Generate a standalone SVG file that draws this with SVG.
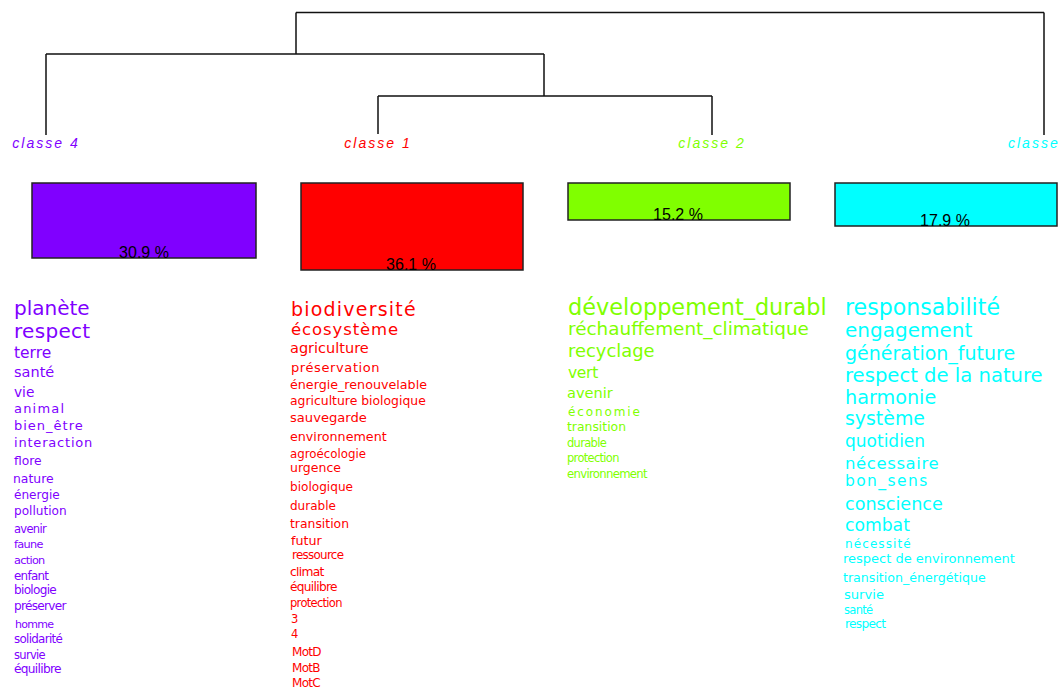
<svg xmlns="http://www.w3.org/2000/svg" width="1059" height="688" viewBox="0 0 1059 688">
<style>
text{font-family:"DejaVu Sans","Liberation Sans",sans-serif}
.lbl{font-family:"Liberation Sans",Arial,sans-serif;font-style:italic;font-size:14px;letter-spacing:2px;text-anchor:middle}
.pct{font-family:"Liberation Sans",Arial,sans-serif;font-size:16px;fill:#000;text-anchor:middle}
.box{stroke:#222;stroke-width:1.5}
.sm{letter-spacing:-0.7px}
.c4{fill:#8000FF}.c1{fill:#FF0000}.c2{fill:#80FF00}.c3{fill:#00FFFF}
.edge{fill:none;stroke:#111;stroke-width:1.5}
</style>
<rect width="1059" height="688" fill="#fff"/>
<g id="connectors">
<path class="edge" d="M296 12.5H1044M296 12.5V54M46 54H544M46 54V135M544 54V96M378 96H712M378 96V134M712 96V135M1044 12.5V135"/>
</g>
<g id="classe4">
<text class="lbl c4" x="46" y="147.5">classe 4</text>
<rect class="box c4" x="32" y="183" width="224" height="75"/>
<text class="pct" x="144" y="258">30.9 %</text>
<g class="c4">
<text x="14" y="315" font-size="20">planète</text>
<text x="14" y="338" font-size="20" letter-spacing="0.3">respect</text>
<text x="14" y="358" font-size="15.5">terre</text>
<text x="14" y="377" font-size="14.5">santé</text>
<text x="14" y="397" font-size="13.7">vie</text>
<text x="14" y="413" font-size="13" letter-spacing="1.2">animal</text>
<text x="14" y="430" font-size="13" letter-spacing="1">bien_être</text>
<text x="14" y="447" font-size="13" letter-spacing="0.8">interaction</text>
<text x="14" y="465" font-size="12.3">flore</text>
<text x="13" y="483" font-size="12.4">nature</text>
<text x="14" y="499" font-size="12.1">énergie</text>
<text x="14" y="515" font-size="12.1">pollution</text>
<text class="sm" x="14" y="533" font-size="11.5">avenir</text>
<text class="sm" x="14" y="548" font-size="11.3">faune</text>
<text class="sm" x="14" y="564" font-size="11.3">action</text>
<text class="sm" x="14" y="580" font-size="11.9">enfant</text>
<text class="sm" x="14" y="594" font-size="12.1">biologie</text>
<text class="sm" x="14" y="610" font-size="12.1">préserver</text>
<text class="sm" x="15" y="628" font-size="11">homme</text>
<text class="sm" x="14" y="643" font-size="11.9">solidarité</text>
<text class="sm" x="14" y="659" font-size="11.5">survie</text>
<text class="sm" x="14" y="673" font-size="12.2">équilibre</text>
</g>
</g>
<g id="classe1">
<text class="lbl c1" x="378" y="147.5">classe 1</text>
<rect class="box c1" x="301" y="183" width="222" height="87"/>
<text class="pct" x="411" y="270">36.1 %</text>
<g class="c1">
<text x="291" y="316" font-size="19" letter-spacing="1.2">biodiversité</text>
<text x="291" y="335" font-size="16.5" letter-spacing="0.9">écosystème</text>
<text x="290" y="353" font-size="14.5">agriculture</text>
<text x="291" y="372" font-size="13" letter-spacing="0.6">préservation</text>
<text x="290" y="389" font-size="12.7">énergie_renouvelable</text>
<text x="290" y="405" font-size="12.4">agriculture biologique</text>
<text x="290" y="422" font-size="13.1">sauvegarde</text>
<text x="290" y="441" font-size="12.7">environnement</text>
<text x="290" y="458" font-size="11.8">agroécologie</text>
<text x="290" y="472" font-size="12.5">urgence</text>
<text x="290" y="491" font-size="12.1">biologique</text>
<text x="290" y="510" font-size="12">durable</text>
<text x="290" y="528" font-size="12.4">transition</text>
<text x="291" y="545" font-size="12.7">futur</text>
<text class="sm" x="292" y="559" font-size="11.9">ressource</text>
<text class="sm" x="290" y="576" font-size="12.3">climat</text>
<text class="sm" x="290" y="591" font-size="12.2">équilibre</text>
<text class="sm" x="290" y="607" font-size="11.5">protection</text>
<text x="291" y="623" font-size="11.5">3</text>
<text x="291" y="638" font-size="11.5">4</text>
<text class="sm" x="292" y="656" font-size="12">MotD</text>
<text class="sm" x="292" y="672" font-size="12">MotB</text>
<text class="sm" x="292" y="687" font-size="12">MotC</text>
</g>
</g>
<g id="classe2">
<text class="lbl c2" x="712" y="147.5">classe 2</text>
<rect class="box c2" x="568" y="183" width="222" height="37"/>
<text class="pct" x="678" y="220">15.2 %</text>
<g class="c2">
<text x="568" y="315" font-size="22.4">développement_durabl</text>
<text x="568" y="335" font-size="18.4">réchauffement_climatique</text>
<text x="568" y="357" font-size="17.9">recyclage</text>
<text x="568" y="378" font-size="15.5" letter-spacing="-0.3">vert</text>
<text x="567" y="398" font-size="14.6">avenir</text>
<text x="568" y="416" font-size="12" letter-spacing="1.9">économie</text>
<text x="567" y="431" font-size="12.4">transition</text>
<text class="sm" x="567" y="447" font-size="11.5">durable</text>
<text class="sm" x="567" y="462" font-size="11.5">protection</text>
<text class="sm" x="567" y="478" font-size="11.7">environnement</text>
</g>
</g>
<g id="classe3">
<text class="lbl c3" x="1008" y="147.5" style="text-anchor:start">classe</text>
<rect class="box c3" x="835" y="183" width="222" height="43"/>
<text class="pct" x="945" y="226">17.9 %</text>
<g class="c3">
<text x="845" y="315" font-size="22.1">responsabilité</text>
<text x="845" y="337" font-size="20">engagement</text>
<text x="845" y="360" font-size="19">génération_future</text>
<text x="845" y="382" font-size="19.6">respect de la nature</text>
<text x="845" y="404" font-size="19.2">harmonie</text>
<text x="845" y="425" font-size="18.9">système</text>
<text x="845" y="447" font-size="17">quotidien</text>
<text x="845" y="469" font-size="16.5" letter-spacing="0.6">nécessaire</text>
<text x="845" y="486" font-size="15.5" letter-spacing="1.4">bon_sens</text>
<text x="845" y="510" font-size="17.6">conscience</text>
<text x="845" y="531" font-size="17.2">combat</text>
<text x="845" y="548" font-size="12" letter-spacing="1.1">nécessité</text>
<text x="843" y="563" font-size="13">respect de environnement</text>
<text x="843" y="582" font-size="12.6">transition_énergétique</text>
<text x="844" y="599" font-size="13.1">survie</text>
<text class="sm" x="844" y="614" font-size="11.5">santé</text>
<text class="sm" x="845" y="628" font-size="12.2">respect</text>
</g>
</g>
</svg>
